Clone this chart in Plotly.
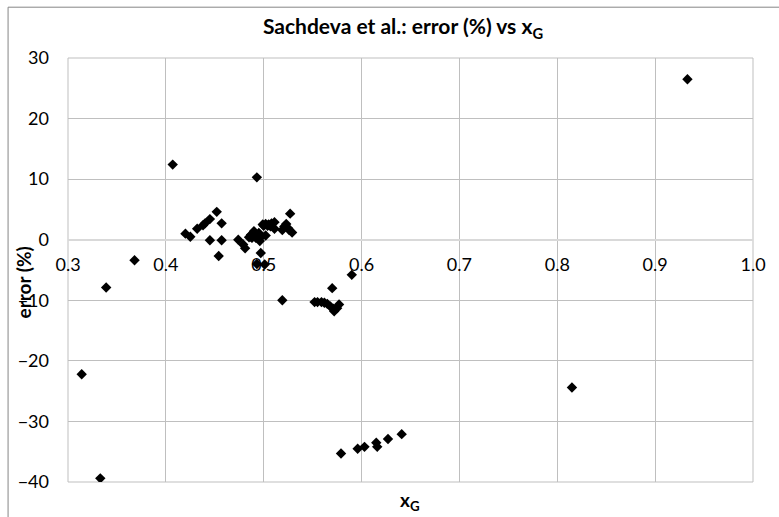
import plotly.graph_objects as go

# x_G values and corresponding error (%) for the Sachdeva et al. correlation
x_g = [
    0.314, 0.333, 0.339, 0.368, 0.407, 0.420, 0.425, 0.432, 0.438, 0.440,
    0.445, 0.445, 0.452, 0.457, 0.457, 0.454, 0.474, 0.479, 0.481, 0.485,
    0.487, 0.487, 0.488, 0.490, 0.490, 0.492, 0.493, 0.493, 0.495, 0.496,
    0.497, 0.493, 0.497, 0.493, 0.501, 0.499, 0.502, 0.505, 0.508, 0.511,
    0.507, 0.511, 0.500, 0.504, 0.502, 0.519, 0.521, 0.523, 0.525, 0.526,
    0.529, 0.527, 0.519, 0.552, 0.555, 0.559, 0.562, 0.565, 0.568, 0.571,
    0.572, 0.575, 0.577, 0.570, 0.590, 0.579, 0.596, 0.603, 0.615, 0.616,
    0.627, 0.641, 0.815, 0.933,
]
error_pct = [
    -22.2, -39.4, -7.9, -3.4, 12.4, 1.0, 0.5, 1.8, 2.4, 2.7,
    3.4, -0.1, 4.6, 2.7, -0.1, -2.7, 0.0, -0.8, -1.4, 0.4,
    0.5, 0.8, 0.3, 1.0, 1.4, 0.3, 0.8, 0.4, 1.1, -0.2,
    0.4, 10.3, -2.2, -4.0, -4.1, 2.5, 2.6, 2.5, 2.7, 2.9,
    2.2, 1.8, 2.3, 2.3, 0.7, 1.6, 2.2, 2.6, 1.9, 1.6,
    1.2, 4.3, -10.0, -10.3, -10.3, -10.3, -10.4, -10.6, -11.0, -11.4,
    -11.8, -11.3, -10.7, -8.0, -5.8, -35.3, -34.5, -34.2, -33.5, -34.2,
    -32.9, -32.1, -24.4, 26.5,
]

x_ticks = [0.3, 0.4, 0.5, 0.6, 0.7, 0.8, 0.9, 1.0]
y_ticks = [-40, -30, -20, -10, 0, 10, 20, 30]

FONT = "Lato"
GRID = "#BFBFBF"

fig = go.Figure(
    go.Scatter(
        x=x_g,
        y=error_pct,
        mode="markers",
        marker=dict(symbol="diamond", size=8, color="black"),
        showlegend=False,
    )
)

W, H = 779, 517
L, R, T, B = 67.5, 25.7, 58.3, 34.7
plot_w = W - L - R
plot_h = H - T - B

fig.update_layout(
    width=W,
    height=H,
    margin=dict(l=L, r=R, t=T, b=B, pad=0),
    paper_bgcolor="white",
    plot_bgcolor="white",
    font=dict(family=FONT, size=18, color="black"),
    title=dict(
        text="<b>Sachdeva et al.: error (%) vs x<sub>G</sub></b>",
        x=403 / W,
        xanchor="center",
        y=1 - 27 / H,
        yanchor="middle",
        font=dict(family=FONT, size=21, color="black"),
    ),
    xaxis=dict(
        range=[0.3, 1.0],
        tickvals=x_ticks,
        ticktext=[f"{v:.1f}" for v in x_ticks],
        tickfont=dict(size=18),
        showgrid=True,
        gridcolor=GRID,
        gridwidth=1,
        zeroline=False,
        showline=False,
        ticks="",
        anchor="free",
        position=40 / 70,
        ticklabelstandoff=12,
    ),
    yaxis=dict(
        range=[-40, 30],
        tickvals=y_ticks,
        tickfont=dict(size=18),
        showgrid=True,
        gridcolor=GRID,
        gridwidth=1,
        zeroline=True,
        zerolinecolor="#D9D9D9",
        zerolinewidth=2,
        showline=False,
        ticks="",
        ticklabelstandoff=18,
    ),
    annotations=[
        dict(
            text="<b>error (%)</b>",
            xref="paper", yref="paper",
            x=0, y=0.5,
            xshift=22 - L, yshift=270 - 283,
            xanchor="center", yanchor="middle",
            textangle=-90, showarrow=False,
            font=dict(family=FONT, size=19, color="black"),
        ),
        dict(
            text="<b>x<sub>G</sub></b>",
            xref="paper", yref="paper",
            x=(410 - L) / plot_w, y=0,
            yshift=-19,
            xanchor="center", yanchor="middle",
            showarrow=False,
            font=dict(family=FONT, size=19, color="black"),
        ),
    ],
    shapes=[
        # plot-area frame
        dict(type="rect", xref="paper", yref="paper", x0=0, x1=1, y0=0, y1=1,
             line=dict(color=GRID, width=1), layer="below"),
        # chart-area border
        dict(type="rect", xref="paper", yref="paper",
             x0=(7.5 - L) / plot_w, x1=1.2,
             y0=-0.3, y1=(H - B - 7.5) / plot_h,
             line=dict(color="#868686", width=1)),
    ],
)

fig.write_html("out.html")
